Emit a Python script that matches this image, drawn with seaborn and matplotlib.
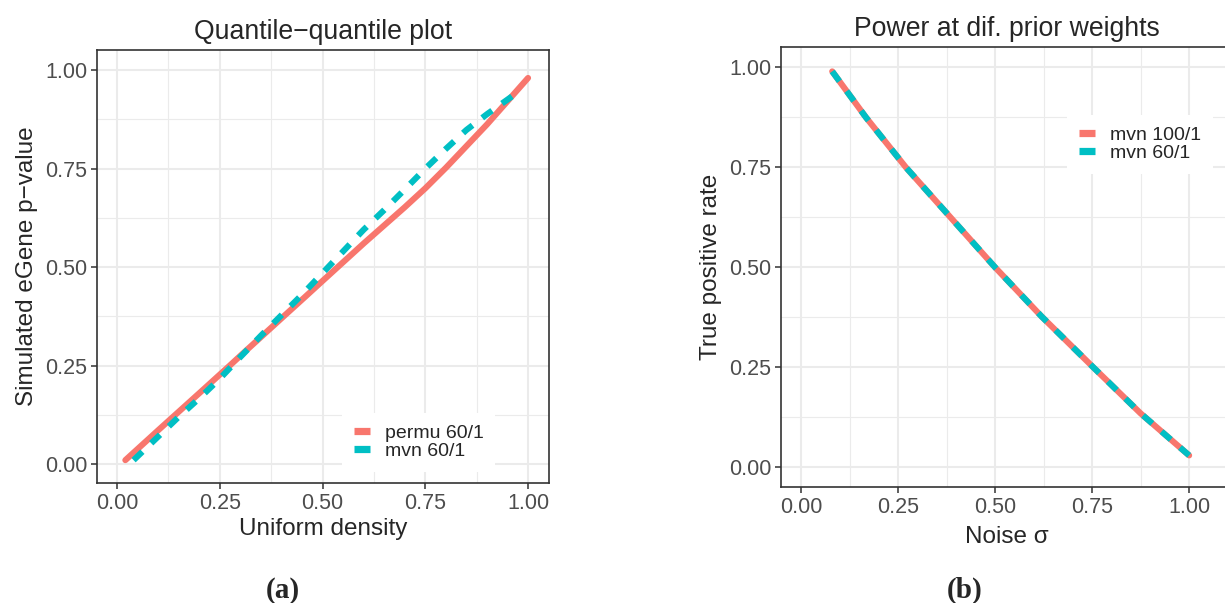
import matplotlib
matplotlib.use("Agg")
import matplotlib.pyplot as plt
from matplotlib.lines import Line2D
from matplotlib.ticker import MultipleLocator
import numpy as np
import pandas as pd
import seaborn as sns

# ---- data ----
# (a) quantile-quantile
permu_x = [0.02, 0.10, 0.20, 0.274, 0.30, 0.40, 0.457, 0.50, 0.60, 0.70, 0.75, 0.80, 0.90, 1.00]
permu_y = [0.01, 0.086, 0.18, 0.25, 0.275, 0.37, 0.424, 0.465, 0.56, 0.652, 0.70, 0.752, 0.862, 0.98]
mvn_x = [0.04, 0.10, 0.15, 0.20, 0.25, 0.30, 0.35, 0.40, 0.45, 0.50, 0.55, 0.60, 0.65,
         0.70, 0.75, 0.80, 0.85, 0.90, 0.97]
mvn_y = [0.01, 0.07, 0.12, 0.167, 0.217, 0.272, 0.326, 0.378, 0.43, 0.485, 0.54, 0.595, 0.645,
         0.697, 0.75, 0.80, 0.848, 0.888, 0.94]

# (b) power vs noise
noise = [0.08, 0.167, 0.27, 0.385, 0.50, 0.62, 0.75, 0.875, 1.00]
tpr_100 = [0.99, 0.875, 0.75, 0.625, 0.50, 0.377, 0.253, 0.135, 0.03]
tpr_60 = [0.99, 0.875, 0.75, 0.625, 0.50, 0.377, 0.253, 0.135, 0.03]

labels_a = ["permu 60/1", "mvn 60/1"]
labels_b = ["mvn 100/1", "mvn 60/1"]
ticks = [0.0, 0.25, 0.5, 0.75, 1.0]
tick_labels = ["0.00", "0.25", "0.50", "0.75", "1.00"]

RED = "#F8766D"
CYAN = "#00BFC4"
LW = 4.4
DASH = (2.0, 2.0)

df_a = pd.DataFrame({
    "x": permu_x + mvn_x,
    "y": permu_y + mvn_y,
    "method": [labels_a[0]] * len(permu_x) + [labels_a[1]] * len(mvn_x),
})
df_b = pd.DataFrame({
    "x": noise + noise,
    "y": tpr_100 + tpr_60,
    "method": [labels_b[0]] * len(noise) + [labels_b[1]] * len(noise),
})

sns.set_style("ticks")
plt.rcParams["font.family"] = ["Liberation Sans", "DejaVu Sans"]

W, H = 1225, 603
fig = plt.figure(figsize=(W / 100, H / 100), dpi=100)


def px_axes(left, top, right, bottom):
    return fig.add_axes([left / W, 1 - bottom / H, (right - left) / W, (bottom - top) / H])


def style_axes(ax, xlim, ylim):
    ax.set_xlim(*xlim)
    ax.set_ylim(*ylim)
    ax.set_xticks(ticks)
    ax.set_xticklabels(tick_labels)
    ax.set_yticks(ticks)
    ax.set_yticklabels(tick_labels)
    ax.xaxis.set_minor_locator(MultipleLocator(0.125))
    ax.yaxis.set_minor_locator(MultipleLocator(0.125))
    ax.grid(which="major", color="#EBEBEB", linewidth=1.5)
    ax.grid(which="minor", color="#EBEBEB", linewidth=0.8)
    ax.set_axisbelow(True)
    ax.tick_params(which="major", length=4, width=1.1, color="#333333",
                   labelsize=15.5, labelcolor="#4D4D4D", pad=3)
    ax.tick_params(which="minor", length=0)
    for s in ax.spines.values():
        s.set_visible(True)
        s.set_color("#333333")
        s.set_linewidth(1.2)


def make_legend(ax, labels, x0, y0):
    handles = [Line2D([0], [0], color=RED, lw=5.2, solid_capstyle="butt"),
               Line2D([0], [0], color=CYAN, lw=5.2, solid_capstyle="butt")]
    leg = ax.legend(handles, labels, loc="upper left",
                    bbox_to_anchor=(x0 / W, 1 - y0 / H), bbox_transform=fig.transFigure,
                    frameon=True, fancybox=False, facecolor="white", edgecolor="none",
                    framealpha=1, fontsize=14, handlelength=0.85, handletextpad=0.75,
                    labelspacing=0.0, borderpad=0.6, borderaxespad=0)
    return leg


# ---- panel (a) ----
ax1 = px_axes(97, 50, 549, 483)
sns.lineplot(data=df_a, x="x", y="y", hue="method", style="method",
             palette={labels_a[0]: RED, labels_a[1]: CYAN},
             dashes={labels_a[0]: "", labels_a[1]: DASH},
             hue_order=labels_a, style_order=labels_a,
             estimator=None, sort=False, linewidth=LW, legend=False, ax=ax1)
style_axes(ax1, (-0.049, 1.051), (-0.048, 1.051))
ax1.set_title("Quantile\u2212quantile plot", fontsize=19.2, pad=8)
ax1.set_xlabel("Uniform density", fontsize=17.5, labelpad=3)
ax1.set_ylabel("Simulated eGene p\u2212value", fontsize=17.5, labelpad=5)
make_legend(ax1, labels_a, 342, 413)

# ---- panel (b): right edge of the frame runs past the canvas ----
ax2 = px_axes(781, 47, 1245, 487)
sns.lineplot(data=df_b, x="x", y="y", hue="method", style="method",
             palette={labels_b[0]: RED, labels_b[1]: CYAN},
             dashes={labels_b[0]: "", labels_b[1]: DASH},
             hue_order=labels_b, style_order=labels_b,
             estimator=None, sort=False, linewidth=LW, legend=False, ax=ax2)
style_axes(ax2, (-0.052, 1.144), (-0.049, 1.051))
ax2.set_title("Power at dif. prior weights", fontsize=19.2, pad=8,
              x=(1007 - 781) / (1245 - 781))
ax2.set_xlabel("Noise \u03c3", fontsize=17.5, labelpad=3)
ax2.xaxis.set_label_coords((1007 - 781) / (1245 - 781), -0.089)
ax2.set_ylabel("True positive rate", fontsize=17.5, labelpad=5)
make_legend(ax2, labels_b, 1067, 115)

# ---- sub-captions ----
fig.text(283 / W, 1 - 590 / H, "(a)", ha="center", va="center",
         fontsize=21, fontweight="bold", family=["Liberation Serif", "DejaVu Serif"])
fig.text(965 / W, 1 - 590 / H, "(b)", ha="center", va="center",
         fontsize=21, fontweight="bold", family=["Liberation Serif", "DejaVu Serif"])

fig.savefig("out.png", dpi=100)
